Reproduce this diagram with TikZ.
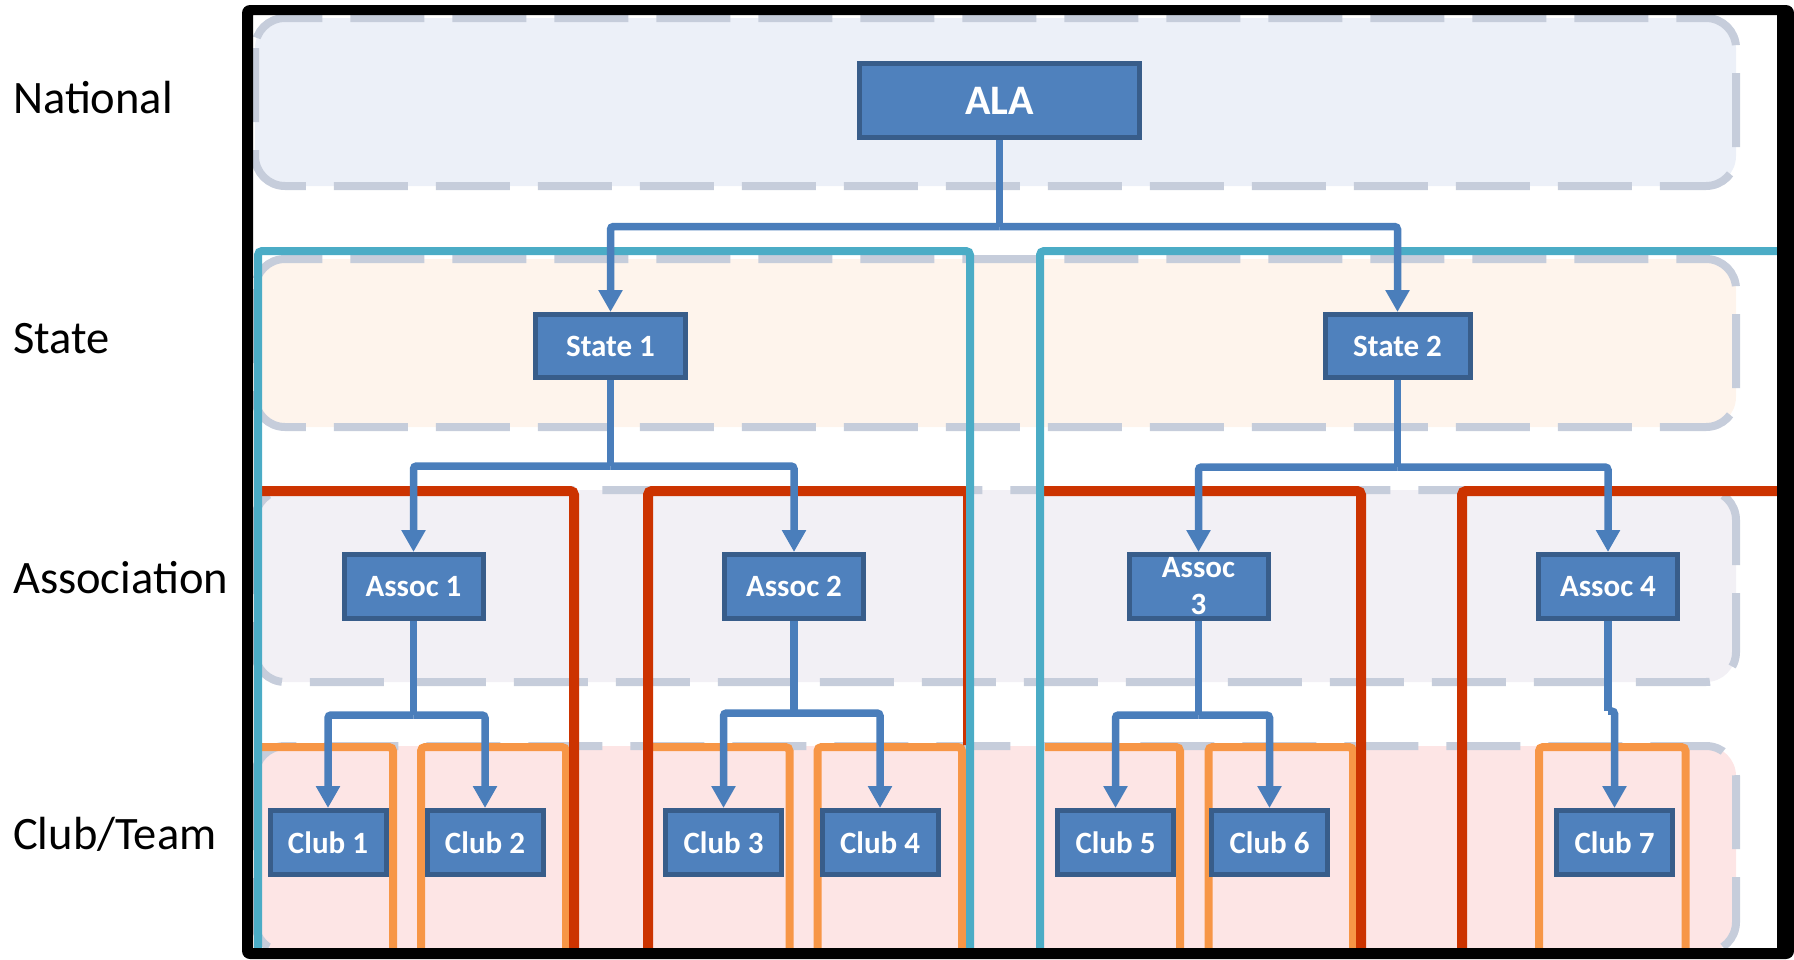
\documentclass[tikz,border=0pt]{standalone}
\usepackage{fontspec}
\setmainfont{Carlito}
\usetikzlibrary{arrows.meta}

\definecolor{boxfill}{HTML}{4F81BD}
\definecolor{boxline}{HTML}{385D8A}
\definecolor{connblue}{HTML}{4A7EBB}
\definecolor{dashgray}{HTML}{C6CDDB}
\definecolor{natfill}{HTML}{ECF0F8}
\definecolor{statefill}{HTML}{FEF4EC}
\definecolor{assocfill}{HTML}{F2F0F5}
\definecolor{clubfill}{HTML}{FDE5E5}
\definecolor{cyanln}{HTML}{4BACC6}
\definecolor{redln}{HTML}{CC3300}
\definecolor{orangeln}{HTML}{F79646}

\tikzset{
  band/.style={draw=dashgray, line width=8pt, dash pattern=on 74pt off 28pt, rounded corners=30pt},
  unit/.style={draw=boxline, line width=5pt, fill=boxfill, text=white, inner sep=0pt,
    font=\fontsize{31}{37}\selectfont\bfseries, align=center},
  stateunit/.style={unit, minimum width=150pt, minimum height=63pt},
  assocunit/.style={unit, minimum width=139pt, minimum height=64pt},
  clubunit/.style={unit, minimum width=116pt, minimum height=64pt},
  lvl/.style={anchor=base west, inner sep=0pt, font=\fontsize{46.5}{56}\selectfont},
  conn/.style={draw=connblue, line width=7.5pt, rounded corners=3pt, -{Triangle[width=23pt,length=22pt]}},
  bus/.style={draw=connblue, line width=7.5pt, rounded corners=3pt},
  cyanbound/.style={draw=cyanln, line width=8pt, rounded corners=4pt},
  redbound/.style={draw=redln, line width=10pt, rounded corners=4pt},
  orangebound/.style={draw=orangeln, line width=8pt, rounded corners=4pt}
}

\begin{document}
\begin{tikzpicture}[x=1pt, y=-1pt]
	\useasboundingbox (0,0) rectangle (1794,959);
	
	% level bands
	\draw[band, fill=natfill] (255,18) rectangle (1736,186);
	\draw[band, fill=statefill] (255,259) rectangle (1736,427);
	\draw[band, fill=assocfill] (255,490) rectangle (1736,682);
	\draw[band, fill=clubfill] (255,746) rectangle (1736,952);
	
	% club boundaries
	\draw[orangebound] (258,747) -- (393,747) -- (393,955);
	\draw[orangebound] (421,955) -- (421,747) -- (566,747) -- (566,955);
	\draw[orangebound] (652,747) -- (789.5,747) -- (789.5,955);
	\draw[orangebound] (817.5,955) -- (817.5,747) -- (962,747) -- (962,955);
	\draw[orangebound] (1045,747) -- (1180,747) -- (1180,955);
	\draw[orangebound] (1208.5,955) -- (1208.5,747) -- (1353,747) -- (1353,955);
	\draw[orangebound] (1539,955) -- (1539,747) -- (1685.5,747) -- (1685.5,955);
	
	% association boundaries
	\draw[redbound] (258,491) -- (574,491) -- (574,955);
	\draw[redbound] (648,955) -- (648,491) -- (968,491) -- (968,745);
	\draw[redbound] (1040,491) -- (1361,491) -- (1361,955);
	\draw[redbound] (1462,955) -- (1462,491) -- (1785,491);
	
	% state boundaries
	\draw[cyanbound] (258,955) -- (258,251) -- (970,251) -- (970,955);
	\draw[cyanbound] (1040,955) -- (1040,251) -- (1785,251);
	
	% units
	\node[unit, minimum width=280pt, minimum height=74pt, font=\fontsize{42}{50}\selectfont\bfseries] (ala) at (999.5,100.5) {ALA};
	\node[stateunit] (s1) at (610.5,346) {State 1};
	\node[stateunit, minimum width=145pt] (s2) at (1397.5,346) {State 2};
	\node[assocunit] (a1) at (413.5,586.5) {Assoc 1};
	\node[assocunit] (a2) at (794,586.5) {Assoc 2};
	\node[assocunit] (a3) at (1198.5,586.5) {Assoc\\3};
	\node[assocunit] (a4) at (1608,586.5) {Assoc 4};
	\foreach \n/\x in {1/328,2/485,3/723.5,4/880,5/1115.5,6/1269.5,7/1614.5}
		\node[clubunit] (c\n) at (\x,842.5) {Club \n};
	
	% connectors
	\coordinate (b0) at (999.5,226.5);
	\coordinate (b1) at (610.5,466);
	\coordinate (b2) at (1397.5,467);
	\coordinate (b3) at (413.5,715);
	\coordinate (b4) at (794,713);
	\coordinate (b5) at (1198.5,715);
	\coordinate (b6) at (1608,711);
	\draw[bus] (ala.south) -- (b0);
	\draw[conn] (b0) -| (s1.north);
	\draw[conn] (b0) -| (s2.north);
	\draw[bus] (s1.south) -- (b1);
	\draw[conn] (b1) -| (a1.north);
	\draw[conn] (b1) -| (a2.north);
	\draw[bus] (s2.south) -- (b2);
	\draw[conn] (b2) -| (a3.north);
	\draw[conn] (b2) -| (a4.north);
	\draw[bus] (a1.south) -- (b3);
	\draw[conn] (b3) -| (c1.north);
	\draw[conn] (b3) -| (c2.north);
	\draw[bus] (a2.south) -- (b4);
	\draw[conn] (b4) -| (c3.north);
	\draw[conn] (b4) -| (c4.north);
	\draw[bus] (a3.south) -- (b5);
	\draw[conn] (b5) -| (c5.north);
	\draw[conn] (b5) -| (c6.north);
	\draw[bus] (a4.south) -- (b6);
	\draw[conn] (b6) -| (c7.north);
	
	% frame
	\fill[black, even odd rule, rounded corners=8pt] (242,5) rectangle (1794,959) [sharp corners] (253,15) rectangle (1777,948);
	
	% level labels
	\node[lvl] (lnat) at (13,113) {National};
	\node[lvl] (lstate) at (13,353) {State};
	\node[lvl] (lassoc) at (13,593) {Association};
	\node[lvl] (lclub) at (13,849) {Club/Team};
\end{tikzpicture}
\end{document}
